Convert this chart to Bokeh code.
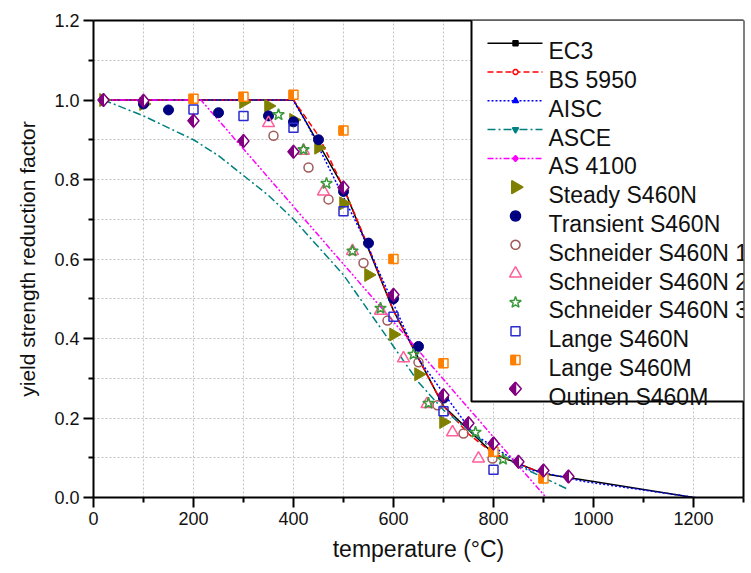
import numpy as np
from bokeh.plotting import figure
from bokeh.models import (Range1d, LinearAxis, FixedTicker, PrintfTickFormatter,
                          BoxAnnotation, PolyAnnotation, Arrow, Label)
from bokeh.embed import file_html
from bokeh.resources import INLINE

# ---------------- data ----------------
x_major_ticks = [0, 200, 400, 600, 800, 1000, 1200]
x_minor_ticks = [100, 300, 500, 700, 900, 1100, 1300]
y_major_ticks = [0.0, 0.2, 0.4, 0.6, 0.8, 1.0, 1.2]
y_minor_ticks = [0.1, 0.3, 0.5, 0.7, 0.9, 1.1]

ec3_t = [20, 100, 200, 300, 400, 500, 600, 700, 800, 900, 1000, 1100, 1200]
ec3_k = [1.0, 1.0, 1.0, 1.0, 1.0, 0.78, 0.47, 0.23, 0.11, 0.06, 0.04, 0.02, 0.0]

bs_t = [20, 100, 200, 300, 400, 450, 500, 550, 600, 650, 700, 750, 800, 900]
bs_k = [1.0, 1.0, 1.0, 1.0, 1.0, 0.91, 0.78, 0.63, 0.47, 0.35, 0.23, 0.16, 0.11, 0.06]

aisc_t = [20, 93, 204, 316, 399, 427, 538, 649, 760, 871, 982, 1093, 1204]
aisc_k = [1.0, 1.0, 1.0, 1.0, 1.0, 0.94, 0.66, 0.35, 0.16, 0.07, 0.04, 0.02, 0.0]

asce_t = [20, 100, 150, 200, 250, 300, 350, 400, 450, 500, 550, 600, 650, 700,
          750, 800, 850, 900, 950]
asce_k = [1.0, 0.96, 0.93, 0.90, 0.86, 0.81, 0.76, 0.70, 0.63, 0.56, 0.47, 0.38,
          0.29, 0.22, 0.17, 0.12, 0.08, 0.05, 0.02]

as4100_t = [20, 215, 905]
as4100_k = [1.0, 1.0, 0.0]

steady_t = [20, 100, 300, 350, 400, 450, 500, 550, 600, 650, 700]
steady_k = [1.0, 0.99, 0.995, 0.985, 0.95, 0.88, 0.74, 0.56, 0.41, 0.31, 0.19]

transient_t = [100, 150, 250, 350, 400, 450, 500, 550, 600, 650, 700]
transient_k = [0.99, 0.975, 0.968, 0.96, 0.945, 0.90, 0.77, 0.64, 0.50, 0.38, 0.25]

schn1_t = [360, 430, 470, 540, 588, 650, 688, 740, 798]
schn1_k = [0.91, 0.83, 0.75, 0.59, 0.445, 0.34, 0.232, 0.161, 0.098]

schn2_t = [350, 420, 460, 518, 574, 620, 667, 718, 770]
schn2_k = [0.942, 0.872, 0.77, 0.62, 0.47, 0.35, 0.235, 0.164, 0.098]

schn3_t = [370, 420, 466, 518, 574, 640, 670, 764, 819]
schn3_k = [0.963, 0.875, 0.79, 0.62, 0.476, 0.36, 0.237, 0.164, 0.096]

langeN_t = [200, 300, 400, 500, 600, 700, 800]
langeN_k = [0.976, 0.96, 0.93, 0.72, 0.455, 0.217, 0.07]

langeM_t = [200, 300, 400, 500, 600, 700, 800, 900]
langeM_k = [1.003, 1.008, 1.013, 0.923, 0.60, 0.338, 0.115, 0.048]

outinen_t = [20, 100, 200, 300, 400, 500, 600, 700, 750, 800, 850, 900, 950]
outinen_k = [1.0, 0.998, 0.948, 0.897, 0.87, 0.78, 0.51, 0.257, 0.187, 0.136,
             0.09, 0.068, 0.053]

legend_labels = ["EC3", "BS 5950", "AISC", "ASCE", "AS 4100", "Steady S460N",
                 "Transient S460N", "Schneider S460N 1", "Schneider S460N 2",
                 "Schneider S460N 3", "Lange S460N", "Lange S460M", "Outinen S460M"]

# ---------------- styles / layout ----------------
FONT = "Liberation Sans"
W, H = 751, 572
FRAME_L, FRAME_R, FRAME_T, FRAME_B = 93, 743, 20, 497      # canvas pixel coords
X_START, X_END, Y_START, Y_END = 0, 1300, 0.0, 1.2
PX_X = (FRAME_R - FRAME_L) / (X_END - X_START)
PX_Y = (FRAME_B - FRAME_T) / (Y_END - Y_START)
UX, UY = 1.0 / PX_X, 1.0 / PX_Y

C_EC3, C_BS, C_AISC, C_ASCE, C_AS = "black", "#ff0000", "#0000ff", "#008080", "#ff00ff"
C_STEADY, C_TRANS, C_S1, C_S2, C_S3 = "#808000", "#000080", "#a05a5a", "#ff5f9a", "#3a9a3a"
C_LN, C_LM, C_OUT = "#2a2ad0", "#ff8000", "#800080"

p = figure(width=W, height=H,
           x_range=Range1d(X_START, X_END), y_range=Range1d(Y_START, Y_END),
           output_backend="svg", toolbar_location=None,
           min_border_left=FRAME_L, min_border_right=W - FRAME_R,
           min_border_top=FRAME_T, min_border_bottom=H - FRAME_B,
           background_fill_color="white", border_fill_color="white")
p.outline_line_color = None

p.xaxis.ticker = FixedTicker(ticks=x_major_ticks, minor_ticks=x_minor_ticks)
p.yaxis.ticker = FixedTicker(ticks=y_major_ticks, minor_ticks=y_minor_ticks)
p.yaxis.formatter = PrintfTickFormatter(format="%.1f")
for ax in (p.xaxis[0], p.yaxis[0]):
    ax.axis_line_width = 2
    ax.axis_line_color = "black"
    ax.major_tick_line_width = 2
    ax.minor_tick_line_width = 2
    ax.major_tick_in = 0
    ax.minor_tick_in = 0
    ax.major_tick_out = 10
    ax.minor_tick_out = 5
    ax.major_label_text_font = FONT
    ax.major_label_text_font_size = "18px"
    ax.major_label_text_color = "#111111"
    ax.axis_label_text_font = FONT
    ax.axis_label_text_font_style = "normal"
    ax.axis_label_text_color = "#111111"
p.xaxis.major_label_standoff = 4
p.yaxis.major_label_standoff = 4
p.xaxis.axis_label = "temperature (°C)"
p.yaxis.axis_label = "yield strength reduction factor"
p.xaxis.axis_label_text_font_size = "23px"
p.yaxis.axis_label_text_font_size = "21px"
p.xaxis.axis_label_standoff = 8
p.yaxis.axis_label_standoff = 12

for g in (p.xgrid[0], p.ygrid[0]):
    g.grid_line_color = "#c4c4c4"
    g.grid_line_dash = "2 2"
    g.grid_line_width = 1
    g.minor_grid_line_color = "#c4c4c4"
    g.minor_grid_line_dash = "2 2"
    g.minor_grid_line_width = 1

for loc in ("above", "right"):
    frame_ax = LinearAxis(ticker=FixedTicker(ticks=[]), axis_line_width=2,
                          axis_line_color="black", major_tick_out=0, minor_tick_out=0,
                          major_tick_in=0, minor_tick_in=0)
    p.add_layout(frame_ax, loc)

# ---------------- code curves ----------------
LINE_STYLES = [
    (ec3_t, ec3_k, C_EC3, "solid"),
    (bs_t, bs_k, C_BS, "6 3"),
    (aisc_t, aisc_k, C_AISC, "2 2"),
    (asce_t, asce_k, C_ASCE, "8 3 2 3"),
    (as4100_t, as4100_k, C_AS, "6 2 2 2 2 2"),
]
for xs, ys, col, dash in LINE_STYLES:
    p.line(xs, ys, line_color=col, line_width=1.5, line_dash=dash)

# ---------------- test data ----------------
p.scatter(steady_t, steady_k, marker="triangle", angle=-np.pi / 2, size=13,
          fill_color=C_STEADY, line_color=C_STEADY)
p.scatter(transient_t, transient_k, marker="circle", size=10,
          fill_color=C_TRANS, line_color=C_TRANS)
p.scatter(schn1_t, schn1_k, marker="circle", size=9, fill_color=None,
          line_color=C_S1, line_width=1.5)
p.scatter(schn2_t, schn2_k, marker="triangle", size=12, fill_color=None,
          line_color=C_S2, line_width=1.5)
p.scatter(schn3_t, schn3_k, marker="star", size=12, fill_color=None,
          line_color=C_S3, line_width=1.5)
p.scatter(langeN_t, langeN_k, marker="square", size=9, fill_color=None,
          line_color=C_LN, line_width=1.5)

# half-filled squares (Lange S460M)
SQ = 4.5
p.scatter(langeM_t, langeM_k, marker="square", size=2 * SQ, fill_color="white",
          line_color=C_LM, line_width=1.5)
p.patches([[t - SQ * UX, t, t, t - SQ * UX] for t in langeM_t],
          [[k - SQ * UY, k - SQ * UY, k + SQ * UY, k + SQ * UY] for k in langeM_k],
          fill_color=C_LM, line_color=C_LM, line_width=1)

# half-filled diamonds (Outinen S460M)
DW, DH = 5.5, 6.5
p.patches([[t, t + DW * UX, t, t - DW * UX] for t in outinen_t],
          [[k + DH * UY, k, k - DH * UY, k] for k in outinen_k],
          fill_color="white", line_color=C_OUT, line_width=1.5)
p.patches([[t, t - DW * UX, t] for t in outinen_t],
          [[k + DH * UY, k, k - DH * UY] for k in outinen_k],
          fill_color=C_OUT, line_color=C_OUT, line_width=1)

# ---------------- legend (drawn in screen units, frame-relative) ----------------
LEG_L, LEG_T, LEG_B, LEG_R = 471, 19, 401, 800
ROW0, ROW_DY = 42.7, 28.8
LINE_X0, LINE_X1, MARK_X, TEXT_X = 487, 542, 515, 548


def sx(cx):
    return cx - FRAME_L


def sy(cy):
    return FRAME_B - cy


def shape(kind, cx, cy, s):
    r = s / 2.0
    h = s * np.sqrt(3) / 2.0
    if kind == "square":
        return [cx - r, cx + r, cx + r, cx - r], [cy - r, cy - r, cy + r, cy + r]
    if kind == "half_square":
        return [cx - r, cx, cx, cx - r], [cy - r, cy - r, cy + r, cy + r]
    if kind == "circle":
        a = np.linspace(0, 2 * np.pi, 29)[:-1]
        return list(cx + r * np.cos(a)), list(cy + r * np.sin(a))
    if kind == "tri_up":
        return [cx - r, cx + r, cx], [cy - h / 3, cy - h / 3, cy + 2 * h / 3]
    if kind == "tri_down":
        return [cx - r, cx + r, cx], [cy + h / 3, cy + h / 3, cy - 2 * h / 3]
    if kind == "tri_right":
        return [cx - h / 3, cx - h / 3, cx + 2 * h / 3], [cy - r, cy + r, cy]
    if kind == "diamond":
        return [cx, cx + r * 0.9, cx, cx - r * 0.9], [cy + r, cy, cy - r, cy]
    if kind == "half_diamond":
        return [cx, cx - r * 0.9, cx], [cy + r, cy, cy - r]
    if kind == "star":
        a = np.pi / 2 + np.arange(10) * np.pi / 5
        rr = np.where(np.arange(10) % 2 == 0, r, r * 0.4)
        return list(cx + rr * np.cos(a)), list(cy + rr * np.sin(a))
    raise ValueError(kind)


p.add_layout(BoxAnnotation(left=sx(LEG_L), right=sx(LEG_R), top=sy(LEG_T), bottom=sy(LEG_B),
                           left_units="screen", right_units="screen",
                           top_units="screen", bottom_units="screen",
                           fill_color="white", fill_alpha=1.0,
                           line_color="black", line_alpha=1.0, line_width=2))

# (line colour, dash, [(marker kind, size, fill, line colour)])
LEGEND_GLYPHS = [
    (C_EC3, "solid", [("square", 5, C_EC3, C_EC3)]),
    (C_BS, "6 3", [("circle", 5, "white", C_BS)]),
    (C_AISC, "2 2", [("tri_up", 6, C_AISC, C_AISC)]),
    (C_ASCE, "8 3 2 3", [("tri_down", 6, C_ASCE, C_ASCE)]),
    (C_AS, "6 2 2 2 2 2", [("diamond", 6, C_AS, C_AS)]),
    (None, None, [("tri_right", 13, C_STEADY, C_STEADY)]),
    (None, None, [("circle", 10, C_TRANS, C_TRANS)]),
    (None, None, [("circle", 9, None, C_S1)]),
    (None, None, [("tri_up", 12, None, C_S2)]),
    (None, None, [("star", 12, None, C_S3)]),
    (None, None, [("square", 9, None, C_LN)]),
    (None, None, [("square", 9, "white", C_LM), ("half_square", 9, C_LM, C_LM)]),
    (None, None, [("diamond", 13, "white", C_OUT), ("half_diamond", 13, C_OUT, C_OUT)]),
]

for i, (label, (lcol, dash, marks)) in enumerate(zip(legend_labels, LEGEND_GLYPHS)):
    yc = ROW0 + i * ROW_DY
    if lcol is not None:
        p.add_layout(Arrow(x_start=sx(LINE_X0), y_start=sy(yc), x_end=sx(LINE_X1),
                           y_end=sy(yc), start_units="screen", end_units="screen",
                           end=None, line_color=lcol, line_width=1.5, line_dash=dash))
    for kind, s, fc, lc in marks:
        xs, ys = shape(kind, sx(MARK_X), sy(yc), s)
        p.add_layout(PolyAnnotation(xs=xs, ys=ys, xs_units="screen", ys_units="screen",
                                    fill_color=fc if fc is not None else "white",
                                    fill_alpha=1.0 if fc is not None else 0.0,
                                    line_color=lc, line_alpha=1.0, line_width=1.5))
    p.add_layout(Label(x=sx(TEXT_X), y=sy(yc + 8), x_units="screen", y_units="screen",
                       text=label, text_font=FONT, text_font_size="23px",
                       text_color="#111111", text_baseline="alphabetic",
                       text_align="left"))

open("out.html", "w").write(file_html(p, INLINE))
